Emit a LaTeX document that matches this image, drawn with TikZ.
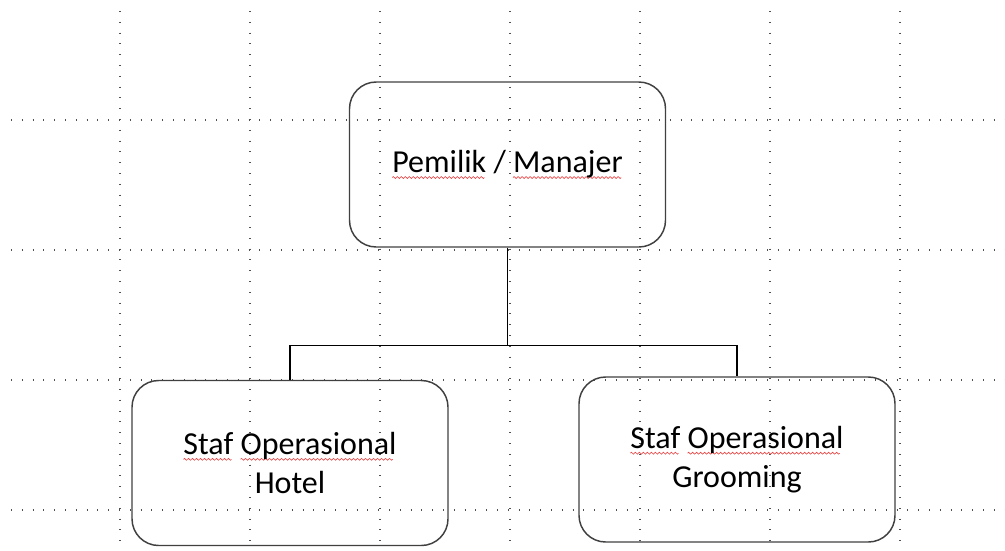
\documentclass[tikz,border=0pt]{standalone}
\usepackage{fontspec}
\setmainfont{Carlito}
\usetikzlibrary{positioning}
\definecolor{gray1}{RGB}{64,64,64}
\definecolor{dot1}{RGB}{80,80,80}
\definecolor{red1}{RGB}{230,70,70}
\newsavebox\spellbox
\newcommand\wavebit{\tikz[baseline=0pt, sharp corners, solid, x=1pt, y=1pt]{\useasboundingbox (0,0) rectangle (3,0); \draw[red1, line width=0.5pt] (0,0) sin (0.75,0.7) cos (1.5,0) sin (2.25,-0.7) cos (3,0);}}
\newcommand\spell[1]{\sbox\spellbox{#1}\rlap{\lower3.5pt\hbox to\wd\spellbox{\leaders\hbox{\wavebit}\hfill}}\usebox\spellbox}

\begin{document}
\begin{tikzpicture}[x=0.75pt, y=-0.75pt]

\tikzstyle{unit}		=[rectangle, rounded corners=20pt, draw=gray1, line width=1.1pt, minimum width=237pt, minimum height=123.75pt, align=center, font=\fontsize{24}{29}\selectfont]
\tikzstyle{gridline}	=[draw=dot1, line width=0.9pt, dash pattern=on 0.75pt off 7.35pt]
\tikzstyle{connection}	=[draw=black, line width=1pt]

\useasboundingbox (0,0) rectangle (1005,550);

\foreach \x in {120,250,...,900}
	\draw[gridline] (\x,11) -- (\x,550);
\foreach \y in {120,250,380,510}
	\draw[gridline] (11,\y) -- (1005,\y);

\node[unit] 	(owner) at (507.5,164.5)	{\spell{Pemilik} / \spell{Manajer}};
\node[unit] 	(hotel) at (290,463)		{\spell{Staf} \spell{Operasional}\\Hotel};
\node[unit] 	(groom) at (737,459.5)		{\spell{Staf} \spell{Operasional}\\Grooming};

\path (owner.south) ++(0,98) coordinate (bus);

\draw [connection]  (owner.south) -- (bus) -| (hotel.north);
\draw [connection]  (bus) -| (groom.north);

\end{tikzpicture}
\end{document}
